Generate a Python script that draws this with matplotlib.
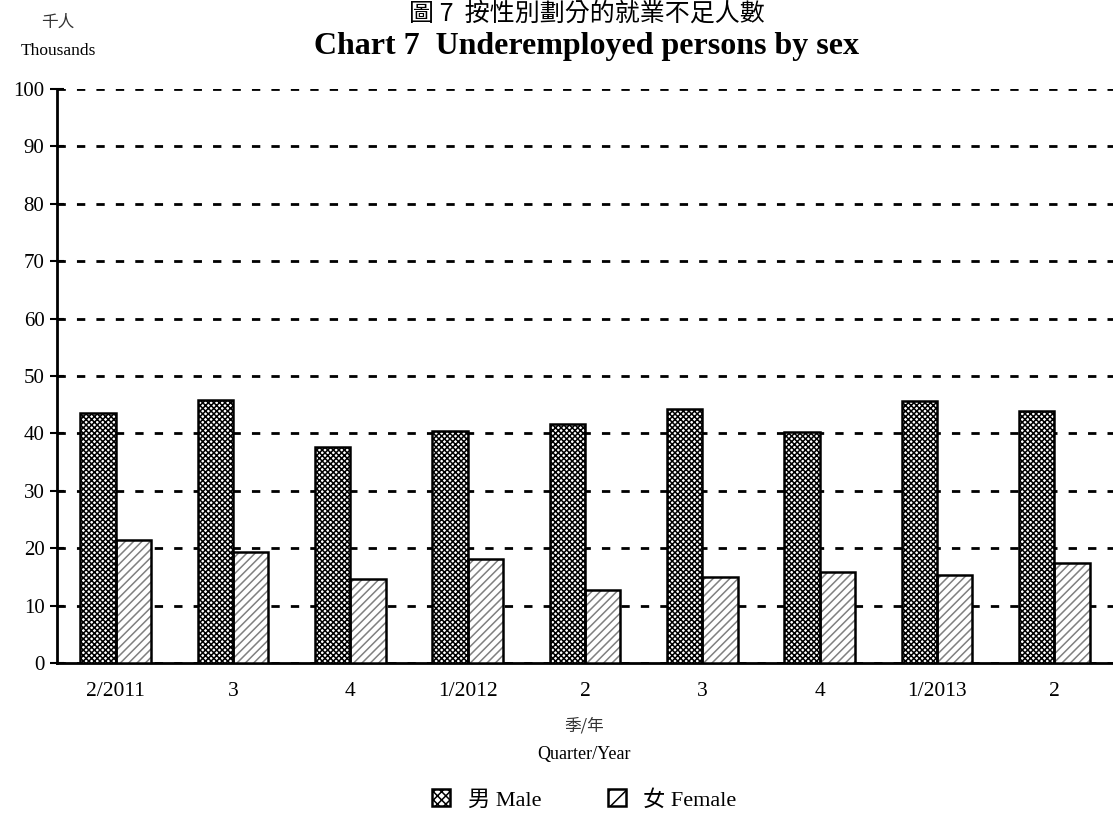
import numpy as np
import matplotlib.pyplot as plt
from matplotlib.patches import Patch

# --- Dados ---
quarters = ['2/2011', '3', '4', '1/2012', '2', '3', '4', '1/2013', '2']
male = [43.5, 45.9, 37.7, 40.4, 41.6, 44.3, 40.3, 45.7, 43.9]
female = [21.4, 19.4, 14.7, 18.2, 12.8, 15.0, 15.8, 15.4, 17.4]
y_ticks = [0, 10, 20, 30, 40, 50, 60, 70, 80, 90, 100]

SERIF = ['Liberation Serif', 'Noto Sans CJK TC']
CJK = ['Noto Sans CJK TC', 'Liberation Serif']
plt.rcParams['font.family'] = SERIF
plt.rcParams['hatch.linewidth'] = 1.1

fig = plt.figure(figsize=(11.13, 8.23), dpi=100)
ax = fig.add_axes([0.0512, 0.1944, 0.9488, 0.6975])

x = np.arange(len(quarters))
w = 0.30
ax.bar(x - w / 2, male, w, facecolor='white', edgecolor='black', hatch='xxxxxx',
       linewidth=0, zorder=3)
ax.bar(x + w / 2, female, w, facecolor='white', edgecolor='#808080', hatch='////',
       linewidth=0, zorder=3)
# contorno preto por cima
ax.bar(x + w / 2, female, w, facecolor='none', edgecolor='black', linewidth=1.8, zorder=4)
ax.bar(x - w / 2, male, w, facecolor='none', edgecolor='black', linewidth=1.8, zorder=4)

ax.set_xlim(-0.5, len(quarters) - 0.5)
ax.set_ylim(0, 100)
ax.set_yticks(y_ticks)
ax.set_yticklabels([str(t) for t in y_ticks], fontsize=15)
ax.set_xticks(x)
ax.set_xticklabels(quarters, fontsize=15.5)
ax.tick_params(axis='x', length=0, pad=14)
ax.tick_params(axis='y', direction='inout', length=10, width=1.5, pad=4)

ax.yaxis.grid(True, linestyle=(0, (3, 4)), color='black', linewidth=2, zorder=1)
ax.set_axisbelow(True)
for s in ['top', 'right']:
    ax.spines[s].set_visible(False)
ax.spines['left'].set_linewidth(2)
ax.spines['bottom'].set_linewidth(2)

# --- Textos ---
fig.text(0.527, 0.999, '圖 7  按性別劃分的就業不足人數', ha='center', va='top',
         fontsize=18, family=CJK)
fig.text(0.527, 0.943, 'Chart 7  Underemployed persons by sex', ha='center', va='center',
         fontsize=23, fontweight='bold')
fig.text(0.052, 0.973, '千人', ha='center', va='center', fontsize=12, family=CJK, color='#333333')
fig.text(0.052, 0.938, 'Thousands', ha='center', va='center', fontsize=12.5)
fig.text(0.525, 0.118, '季/年', ha='center', va='center', fontsize=12, family=CJK, color='#333333')
fig.text(0.525, 0.083, 'Quarter/Year', ha='center', va='center', fontsize=13)

handles = [Patch(facecolor='white', edgecolor='black', hatch='xxxx', linewidth=1.8, label='男 Male'),
           Patch(facecolor='white', edgecolor='black', hatch='//', linewidth=1.8, label='女 Female')]
leg = fig.legend(handles=handles, loc='center', bbox_to_anchor=(0.525, 0.028), ncol=2,
                 frameon=False, handlelength=0.8, handleheight=0.8, columnspacing=3,
                 prop={'size': 16})

fig.savefig('out.png', dpi=100)
